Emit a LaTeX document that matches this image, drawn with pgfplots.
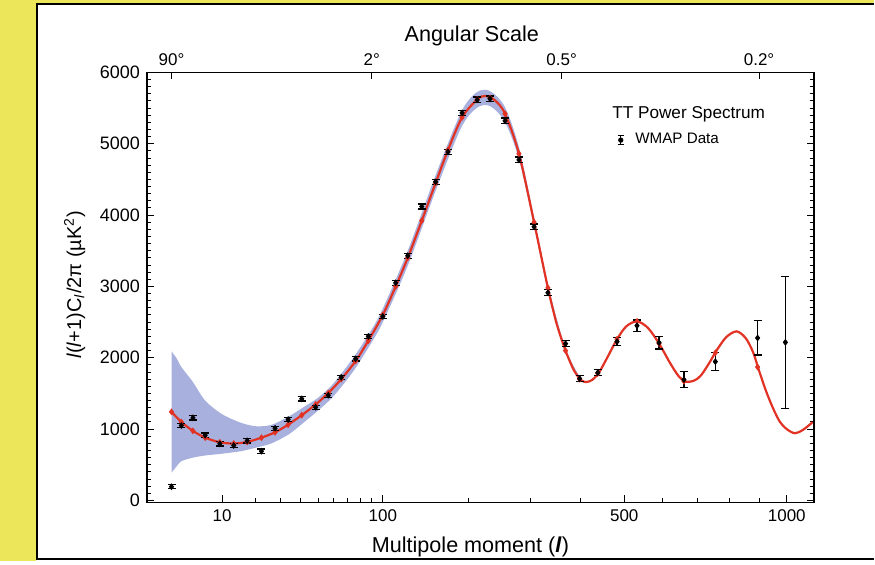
\documentclass[border=0pt]{standalone}
\usepackage{fontspec}
\setmainfont{Liberation Sans}
\usepackage{pgfplots}
\usepackage{pgfplotstable}
\pgfplotsset{compat=1.18}
\usepgfplotslibrary{fillbetween}
\definecolor{cvblue}{RGB}{168,177,222}
\definecolor{thred}{RGB}{226,50,35}
\definecolor{slideyellow}{RGB}{236,230,90}

% x axis is linear in l^0.4; ticks below are given at l^0.4
\pgfplotsset{
  lscale/.style={
    scale only axis, width=334pt, height=215.25pt,
    xmin=0.7367, xmax=16.494,
    tick align=inside,
    major tick length=3.5pt, minor tick length=2.2pt,
    every tick/.style={black, line width=0.5pt},
    tick label style={font=\fontsize{8.5}{10}\selectfont},
    /pgf/number format/assume math mode=true,
    /pgf/number format/1000 sep={},
  },
}

% cosmic variance band: l, lower, upper
\pgfplotstableread{
l lo hi
2 390 2090
2.5 480 1990
3 550 1870
4.5 600 1660
6.5 630 1400
10 655 1210
15 690 1090
20 740 1040
26 800 1060
34 930 1180
41 1080 1300
50 1260 1440
60 1460 1640
75 1820 2010
90 2220 2400
100 2500 2690
125 3290 3500
157 4340 4560
190 5220 5440
212 5500 5720
232 5530 5740
256 5310 5520
280 4780 4950
307 3840 3970
333 2930 3030
368 2070 2130
400 1670 1710
}\bandtab

% best-fit model spectrum
\pgfplotstableread{
l y
2 1242
3 1100
4.5 975
6.5 880
9.5 815
13 798
17 820
22 880
27.5 955
33.5 1062
40.5 1195
48.5 1345
56.5 1505
65.5 1700
76.5 1955
87 2240
100 2600
112.5 3000
125 3400
140.5 3920
157 4450
172.5 4910
191.5 5370
213 5620
225 5670
240 5610
256.5 5420
280 4860
307 3900
333 2980
350 2480
368 2100
385 1830
400 1690
412 1660
425 1690
440 1790
460 2010
482.5 2260
505 2440
532 2510
560 2420
590 2200
620 1930
645 1740
665 1665
690 1680
710 1750
735 1920
760 2110
790 2290
824 2370
855 2270
880 2070
900 1820
925 1530
950 1290
975 1100
1000 1000
1030 942
1060 985
1099 1096
}\modeltab

% model binned like the data
\pgfplotstableread{
l y
2 1242
3 1100
4.5 975
6.5 880
9.5 815
13 798
17 820
22 880
27.5 955
33.5 1062
40.5 1195
48.5 1345
56.5 1505
65.5 1700
76.5 1955
87 2240
100 2600
112.5 3000
125 3400
140.5 3920
157 4450
172.5 4910
191.5 5370
213 5620
232.5 5640
256.5 5420
280 4860
307 3900
333 2980
368 2100
397.5 1700
437.5 1780
482.5 2260
532 2510
590 2200
660 1670
755 2070
895 1870
}\bintab

% WMAP binned data: l, value, error
\pgfplotstableread{
l y e
2 192 30
3 1050 30
4.5 1158 30
6.5 914 30
9.5 794 30
13 770 30
17 836 30
22 690 30
27.5 1012 30
33.5 1134 30
40.5 1424 30
48.5 1306 30
56.5 1474 30
65.5 1726 30
76.5 1984 30
87 2300 30
100 2580 30
112.5 3050 35
125 3430 35
140.5 4120 35
157 4466 35
172.5 4886 35
191.5 5432 35
213 5614 40
232.5 5630 40
256.5 5320 40
280 4774 40
307 3836 40
333 2912 40
368 2198 40
397.5 1708 40
437.5 1792 45
482.5 2226 55
532 2450 80
590 2212 90
660 1694 110
755 1946 130
895 2278 240
995 2216 925
}\wmaptab

\begin{document}
\begin{tikzpicture}
\begin{axis}[
    lscale,
    at={(0,0)}, anchor=south west,
    ymin=-28, ymax=6000,
    xtick={2.5119,6.3096,12.0112,15.8489},
    xticklabels={10,100,500,1000},
    minor xtick={3.3145,3.8981,4.3734,4.7818,5.1435,5.4707,5.7708,6.0492,
                 8.3255,9.7915,10.9856,12.920,13.741,14.495,15.195},
    xtick pos=left,
    ytick={0,1000,2000,3000,4000,5000,6000},
    minor y tick num=9, ytick pos=both,
    yticklabel style={font=\fontsize{9}{10}\selectfont},
    scaled y ticks=false,
    axis line style={line width=0.7pt},
    xlabel={Multipole moment (\textbf{\textit{l}})},
    ylabel={\textit{l}(\textit{l}+1)C\textsubscript{\textit{l}}/2π (µK\textsuperscript{2})},
    xlabel style={at={(axis description cs:0.485,-0.1045)}, anchor=center,
                  font=\fontsize{10.8}{13}\selectfont},
    ylabel style={at={(axis description cs:-0.108,0.506)}, anchor=center,
                  font=\fontsize{10}{12}\selectfont},
    legend style={draw=none, fill=none, inner sep=0pt,
                  at={(axis description cs:0.7046,0.8425)}, anchor=west,
                  font=\fontsize{7.6}{9}\selectfont},
]
% cosmic variance band
\addplot[name path=bandlo, draw=none, smooth, forget plot]
  table[x expr=\thisrow{l}^0.4, y=lo] {\bandtab};
\addplot[name path=bandhi, draw=none, smooth, forget plot]
  table[x expr=\thisrow{l}^0.4, y=hi] {\bandtab};
\addplot[cvblue, forget plot] fill between[of=bandlo and bandhi];

% model
\addplot[thred, line width=1.1pt, smooth, forget plot]
  table[x expr=\thisrow{l}^0.4, y=y] {\modeltab};
\addplot[thred, only marks, mark=diamond*, mark size=1.4pt, forget plot]
  table[x expr=\thisrow{l}^0.4, y=y] {\bintab};

% WMAP data
\addplot[black, only marks, mark=diamond*, mark size=1.4pt,
    legend image code/.code={
      \draw[black, line width=0.6pt] (1.4pt,-2.3pt) -- (1.4pt,2.3pt)
        (0pt,-2.3pt) -- (2.8pt,-2.3pt) (0pt,2.3pt) -- (2.8pt,2.3pt);
      \fill[black] (1.4pt,0pt) circle (1.1pt);
      \path (6.5pt,0pt);
    },
    error bars/.cd, y dir=both, y explicit,
    error bar style={line width=0.6pt},
    error mark options={rotate=90, mark size=2pt, line width=0.6pt},
] table[x expr=\thisrow{l}^0.4, y=y, y error=e] {\wmaptab};
\addlegendentry{WMAP Data}

\node[anchor=west, inner sep=0pt, font=\fontsize{8.6}{10}\selectfont]
  at (axis description cs:0.697,0.903) {TT Power Spectrum};
\end{axis}

% angular scale on top
\begin{axis}[
    lscale,
    at={(0,0)}, anchor=south west,
    ymin=0, ymax=1, ytick=\empty,
    axis line style={draw=none},
    xtick pos=right, xticklabel pos=right,
    xtick={1.3195,6.0492,10.532,15.195},
    xticklabels={90°,2°,0.5°,0.2°},
    title={Angular Scale},
    title style={at={(axis description cs:0.487,1.058)}, anchor=center,
                 font=\fontsize{10.8}{13}\selectfont},
]
\addplot[draw=none, forget plot] coordinates {(5,0.5)};
\end{axis}

% slide frame around the chart
\fill[slideyellow] (-73.5pt,-29.5pt) rectangle (-55.5pt,251.5pt);
\fill[slideyellow] (-73.5pt,249.8pt) rectangle (364pt,251.5pt);
\draw[black, line width=1pt] (-55pt,-29pt) -- (-55pt,249.5pt) -- (364pt,249.5pt);
\draw[black, line width=1pt] (-55pt,-28.5pt) -- (364pt,-28.5pt);
\end{tikzpicture}
\end{document}
